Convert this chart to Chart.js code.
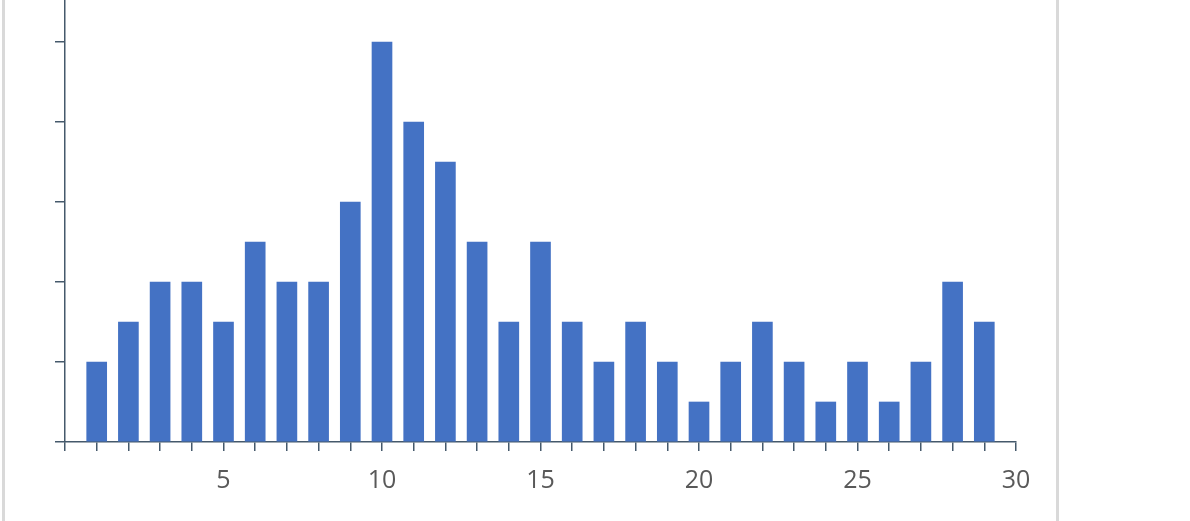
<!DOCTYPE html>
<html>
<head>
<meta charset="utf-8">
<script src="https://cdn.jsdelivr.net/npm/chart.js@4/dist/chart.umd.min.js"></script>
<style>
  body { margin: 0; background: #fff; }
  #wrap { position: relative; width: 1190px; height: 521px; overflow: hidden; }
  .frame { position: absolute; top: 0; width: 3px; height: 521px; background: #d9d9d9; }
  canvas { position: absolute; left: 0; top: 0; }
</style>
</head>
<body>
<div id="wrap">
  <div class="frame" style="left:2px"></div>
  <div class="frame" style="left:1056px"></div>
  <canvas id="chart" width="1190" height="521"></canvas>
</div>
<script>
// values
const positions = [1, 2, 3, 4, 5, 6, 7, 8, 9, 10, 11, 12, 13, 14, 15,
                   16, 17, 18, 19, 20, 21, 22, 23, 24, 25, 26, 27, 28, 29];
const counts    = [2, 3, 4, 4, 3, 5, 4, 4, 6, 10, 8, 7, 5, 3, 5,
                   3, 2, 3, 2, 1, 2, 3, 2, 1, 2, 1, 2, 4, 3];
const labelStep = 5;

const axisColor = '#45596b';

let points = positions.map( (p, i) => { return {x: p, y: counts[i]}; } );

new Chart(document.getElementById('chart'),
{
    type: 'bar',
    data: {
        datasets: [{
            data: points,
            backgroundColor: '#4472C4',
            barThickness: 20
        }]
    },
    options: {
        responsive: false,
        animation: false,
        devicePixelRatio: 1,
        layout: { padding: { left: 0, right: 174, top: 0, bottom: 0 } },
        plugins: { legend: { display: false }, tooltip: { enabled: false } },
        scales: {
            x: {
                type: 'linear',
                min: 0,
                max: 30,
                offset: false,
                grid: { offset: false, drawOnChartArea: false, drawTicks: true, tickLength: 9, color: axisColor, lineWidth: 1.5 },
                border: { color: axisColor, width: 1.5 },
                ticks: {
                    stepSize: 1,
                    autoSkip: false,
                    maxRotation: 0,
                    padding: 15,
                    color: '#595959',
                    font: { family: 'Open Sans', size: 25 },
                    callback: function(value) {
                        return value % labelStep === 0 && value !== 0 ? String(value) : '';
                    }
                },
                afterFit: function(scale) { scale.height = 79; }
            },
            y: {
                min: 0,
                max: 11.05,
                grid: { drawOnChartArea: false, drawTicks: true, tickLength: 10, color: axisColor, lineWidth: 1.5 },
                border: { color: axisColor, width: 1.5 },
                ticks: { display: false, stepSize: 2, includeBounds: false },
                afterFit: function(scale) { scale.width = 65; }
            }
        }
    }
});
</script>
</body>
</html>
